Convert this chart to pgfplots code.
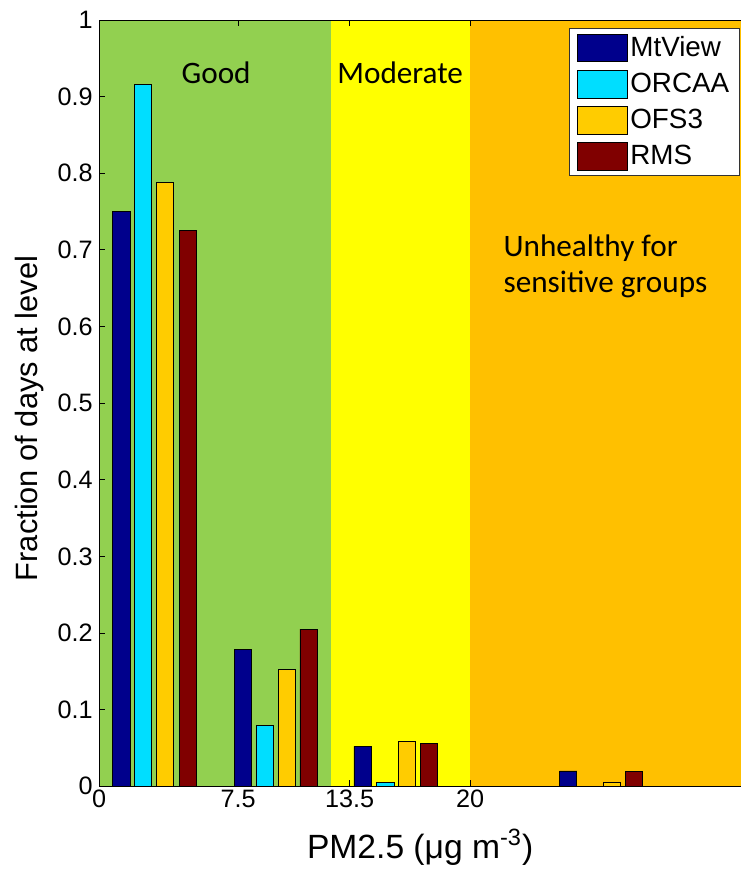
\documentclass[border=0pt]{standalone}
\usepackage{fontspec}
\setmainfont{Liberation Sans}
\newfontfamily\calibri{Carlito}
\usepackage{pgfplots}
\pgfplotsset{compat=1.18}
\definecolor{cMt}{RGB}{0,0,140}
\definecolor{cOr}{RGB}{0,222,255}
\definecolor{cOf}{RGB}{255,204,0}
\definecolor{cRm}{RGB}{128,0,0}
\definecolor{bgGood}{RGB}{146,208,80}
\definecolor{bgMod}{RGB}{255,255,0}
\definecolor{bgUsg}{RGB}{255,192,0}
\begin{document}
\begin{tikzpicture}
\begin{axis}[
  set layers,
  scale only axis, width=321pt, height=383pt,
  xmin=0, xmax=34.61, ymin=0, ymax=1,
  axis y line*=left, y axis line style={-},
  axis line style={line width=0.5pt},
  xtick={0,7.5,13.5,20}, xticklabels={0,7.5,13.5,20},
  ytick={0,0.1,0.2,0.3,0.4,0.5,0.6,0.7,0.8,0.9,1},
  yticklabels={0,0.1,0.2,0.3,0.4,0.5,0.6,0.7,0.8,0.9,1},
  tick align=inside, major tick length=3pt,
  tick style={black, line width=0.4pt},
  ticklabel style={font=\fontsize{12.6}{15}\selectfont},
  yticklabel style={inner xsep=3pt},
  xticklabel style={inner ysep=1.8pt},
  xlabel={PM2.5 (μg m\textsuperscript{-3})},
  ylabel={Fraction of days at level},
  every axis x label/.style={at={(axis description cs:0.5,-0.0796)}, anchor=center, font=\fontsize{16.8}{19}\selectfont},
  every axis y label/.style={at={(axis description cs:-0.1075,0.48)}, anchor=center, rotate=90, font=\fontsize{15.4}{19}\selectfont},
  legend image code/.code={\draw[#1] (0pt,-6.9pt) rectangle (25pt,6.9pt);},
  legend cell align=left,
  legend style={at={(rel axis cs:1,1)}, anchor=north east, yshift=-4pt, xshift=-0.5pt,
    draw=black!80, fill=white, line width=0.5pt,
    font=\fontsize{13.9}{16}\selectfont, inner xsep=4pt, inner ysep=1.6pt, row sep=2.3pt,
    nodes={inner xsep=1.25pt, inner ysep=2.25pt}},
]
\begin{pgfonlayer}{axis background}
\fill[bgGood] (axis cs:0,0) rectangle (axis cs:12.5,1);
\fill[bgMod] (axis cs:12.5,0) rectangle (axis cs:20,1);
\fill[bgUsg] (axis cs:20,0) rectangle (axis cs:34.61,1);
\end{pgfonlayer}
\addplot[ybar, bar width=0.93, bar shift=0pt, draw=black, line width=0.4pt, fill=cMt] coordinates {(1.21,0.750) (7.74,0.179) (14.20,0.052) (25.28,0.020)};
\addplot[ybar, bar width=0.93, bar shift=0pt, draw=black, line width=0.4pt, fill=cOr] coordinates {(2.38,0.916) (8.92,0.079) (15.43,0.005)};
\addplot[ybar, bar width=0.93, bar shift=0pt, draw=black, line width=0.4pt, fill=cOf] coordinates {(3.56,0.788) (10.12,0.153) (16.58,0.058) (27.63,0.005)};
\addplot[ybar, bar width=0.93, bar shift=0pt, draw=black, line width=0.4pt, fill=cRm] coordinates {(4.78,0.725) (11.29,0.205) (17.78,0.0556) (28.83,0.019)};
\legend{MtView,ORCAA,OFS3,RMS}
\begin{scope}[every node/.style={font=\calibri\fontsize{15.6}{18}\selectfont, inner sep=0pt}]
\node[anchor=base] at (axis cs:6.31,0.917) {Good};
\node[anchor=base] at (axis cs:16.23,0.917) {Moderate};
\node[anchor=base west] at (axis cs:21.78,0.691) {Unhealthy for};
\node[anchor=base west] at (axis cs:21.78,0.644) {sensitive groups};
\end{scope}
\end{axis}
\pgfresetboundingbox
\useasboundingbox (-49.5pt,-41.35pt) rectangle (321pt,393pt);
\end{tikzpicture}
\end{document}
